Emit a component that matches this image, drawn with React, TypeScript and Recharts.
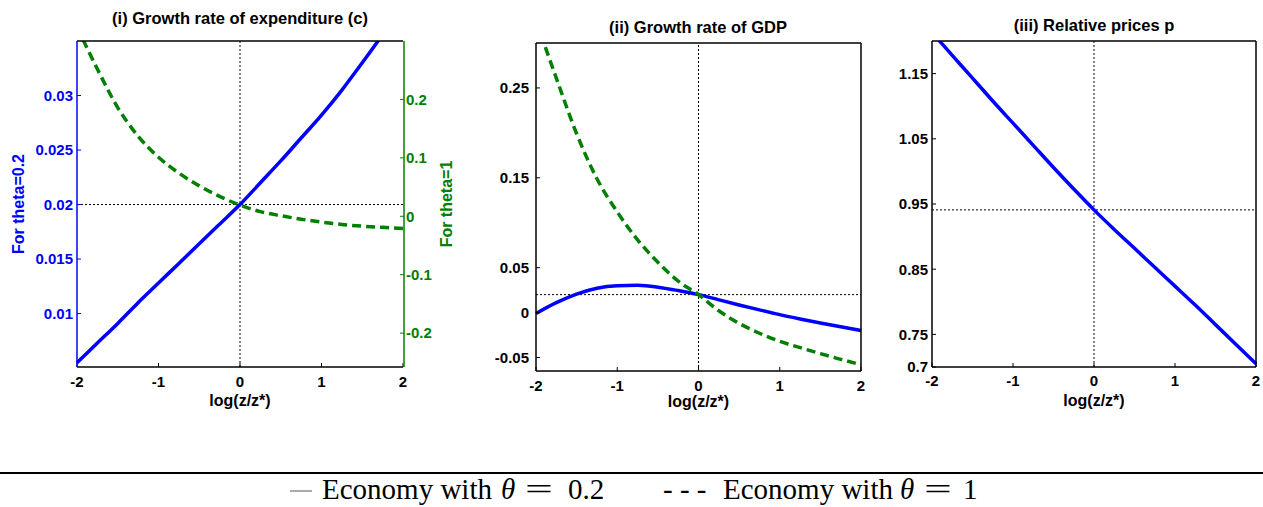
import React from 'react';
import { LineChart, Line, XAxis, YAxis, ReferenceLine } from 'recharts';

// log(z/z*) grid shared by all three panels
const logZ = [-2, -1.75, -1.5, -1.25, -1, -0.75, -0.5, -0.25, 0, 0.25, 0.5, 0.75, 1, 1.25, 1.5, 1.75, 2];
const xTicks = [-2, -1, 0, 1, 2];

// (i) growth rate of expenditure
const expTheta02 = [0.0055, 0.0073, 0.0091, 0.011, 0.0128, 0.0146, 0.0164, 0.0182, 0.02, 0.022, 0.024, 0.0261, 0.0282, 0.0305, 0.033, 0.0356, 0.0384];
const expTheta1 = [0.324, 0.252, 0.186, 0.137, 0.101, 0.074, 0.052, 0.034, 0.019, 0.008, 0.001, -0.005, -0.01, -0.014, -0.017, -0.019, -0.021];
const expLeftTicks = [0.01, 0.015, 0.02, 0.025, 0.03];
const expRightTicks = [-0.2, -0.1, 0, 0.1, 0.2];

// (ii) growth rate of GDP
const gdpTheta02 = [-0.001, 0.011, 0.0205, 0.027, 0.0298, 0.0303, 0.0283, 0.0245, 0.02, 0.0142, 0.0085, 0.003, -0.0023, -0.0071, -0.0116, -0.0158, -0.02];
const gdpTheta1 = [0.325, 0.261, 0.199, 0.149, 0.112, 0.081, 0.056, 0.035, 0.02, 0.002, -0.012, -0.023, -0.032, -0.039, -0.0456, -0.052, -0.058];
const gdpTicks = [-0.05, 0, 0.05, 0.15, 0.25];

// (iii) relative prices
const priceTheta02 = [1.213, 1.178, 1.143, 1.108, 1.074, 1.04, 1.006, 0.973, 0.941, 0.911, 0.882, 0.853, 0.824, 0.795, 0.765, 0.735, 0.705];
const priceTicks = [0.7, 0.75, 0.85, 0.95, 1.05, 1.15];

const rows = logZ.map((x, i) => ({
  x,
  expA: expTheta02[i],
  expB: expTheta1[i],
  gdpA: gdpTheta02[i],
  gdpB: gdpTheta1[i],
  priceA: priceTheta02[i],
}));

const BLUE = '#0000ff';
const GREEN = '#008000';
const SANS = '"Liberation Sans", Arial, Helvetica, sans-serif';

const tickFont = (fill: string) => ({ fill, fontSize: 15, fontWeight: 'bold', fontFamily: SANS });
const xLabel = (offset: number) => ({
  value: 'log(z/z*)',
  position: 'insideBottom' as const,
  offset,
  fill: '#000',
  fontSize: 16,
  fontWeight: 'bold',
  fontFamily: SANS,
});
const dotted = { stroke: '#000', strokeDasharray: '2 2', strokeWidth: 1 };
const box = { stroke: '#000', strokeWidth: 1.5 };

const Title = ({ text, center, top }: { text: string; center: number; top: number }) => (
  <div
    style={{
      position: 'absolute',
      left: center - 200,
      width: 400,
      top,
      textAlign: 'center',
      fontFamily: SANS,
      fontWeight: 'bold',
      fontSize: 16.5,
      lineHeight: '20px',
    }}
  >
    {text}
  </div>
);

const bottomAxis = (offset: number, tickMargin: number) => (
  <XAxis
    xAxisId="b"
    dataKey="x"
    type="number"
    domain={[-2, 2]}
    ticks={xTicks}
    interval={0}
    height={40}
    axisLine={box}
    tickLine={{ stroke: '#000' }}
    tickSize={-4}
    tickMargin={tickMargin}
    tick={tickFont('#000')}
    label={xLabel(offset)}
  />
);

// top edge of the box, ticks pointing inward
const topAxis = (
  <XAxis
    xAxisId="t"
    orientation="top"
    dataKey="x"
    type="number"
    domain={[-2, 2]}
    ticks={xTicks}
    interval={0}
    height={1}
    axisLine={box}
    tickLine={{ stroke: '#000' }}
    tickSize={-4}
    tick={false}
  />
);

const ExpenditurePanel = () => (
  <div style={{ position: 'absolute', left: 0, top: 0 }}>
    <LineChart width={480} height={420} data={rows} margin={{ top: 40, right: 16, bottom: 13, left: 5 }}>
      {bottomAxis(1, 13)}
      {topAxis}
      <YAxis
        yAxisId="L"
        orientation="left"
        width={72}
        type="number"
        domain={[0.0051, 0.035]}
        allowDataOverflow
        ticks={expLeftTicks}
        interval={0}
        axisLine={{ stroke: BLUE, strokeWidth: 1.5 }}
        tickLine={{ stroke: BLUE }}
        tickSize={-4}
        tickMargin={8}
        tick={tickFont(BLUE)}
        label={{
          value: 'For theta=0.2',
          angle: -90,
          position: 'insideLeft',
          offset: 13,
          fill: BLUE,
          fontSize: 16,
          fontWeight: 'bold',
          fontFamily: SANS,
          style: { textAnchor: 'middle' },
        }}
      />
      <YAxis
        yAxisId="Lm"
        orientation="right"
        width={1}
        type="number"
        domain={[0.0051, 0.035]}
        allowDataOverflow
        ticks={expLeftTicks}
        interval={0}
        axisLine={false}
        tickLine={{ stroke: BLUE }}
        tickSize={-4}
        tick={false}
      />
      <YAxis
        yAxisId="R"
        orientation="right"
        width={60}
        type="number"
        domain={[-0.258, 0.3]}
        allowDataOverflow
        ticks={expRightTicks}
        interval={0}
        axisLine={{ stroke: GREEN, strokeWidth: 1.5 }}
        tickLine={{ stroke: GREEN }}
        tickSize={-4}
        tickMargin={6}
        tick={tickFont(GREEN)}
        label={{
          value: 'For theta=1',
          angle: -90,
          position: 'insideRight',
          offset: 18,
          fill: GREEN,
          fontSize: 16,
          fontWeight: 'bold',
          fontFamily: SANS,
          style: { textAnchor: 'middle' },
        }}
      />
      <ReferenceLine xAxisId="b" yAxisId="L" x={0} {...dotted} />
      <ReferenceLine xAxisId="b" yAxisId="L" y={0.02} {...dotted} />
      <Line xAxisId="b" yAxisId="R" dataKey="expB" type="monotone" stroke={GREEN} strokeWidth={3.5} strokeDasharray="9 5" dot={false} isAnimationActive={false} />
      <Line xAxisId="b" yAxisId="L" dataKey="expA" type="monotone" stroke={BLUE} strokeWidth={3.5} dot={false} isAnimationActive={false} />
    </LineChart>
  </div>
);

const GdpPanel = () => (
  <div style={{ position: 'absolute', left: 480, top: 0 }}>
    <LineChart width={420} height={420} data={rows} margin={{ top: 42, right: 38, bottom: 9, left: 0 }}>
      {bottomAxis(4, 13)}
      {topAxis}
      <YAxis
        yAxisId="L"
        orientation="left"
        width={56}
        type="number"
        domain={[-0.065, 0.3]}
        allowDataOverflow
        ticks={gdpTicks}
        interval={0}
        axisLine={box}
        tickLine={{ stroke: '#000' }}
        tickSize={-4}
        tickMargin={11}
        tick={tickFont('#000')}
      />
      <YAxis
        yAxisId="Rm"
        orientation="right"
        width={1}
        type="number"
        domain={[-0.065, 0.3]}
        allowDataOverflow
        ticks={gdpTicks}
        interval={0}
        axisLine={box}
        tickLine={{ stroke: '#000' }}
        tickSize={-4}
        tick={false}
      />
      <ReferenceLine xAxisId="b" yAxisId="L" x={0} {...dotted} />
      <ReferenceLine xAxisId="b" yAxisId="L" y={0.02} {...dotted} />
      <Line xAxisId="b" yAxisId="L" dataKey="gdpA" type="monotone" stroke={BLUE} strokeWidth={3.5} dot={false} isAnimationActive={false} />
      <Line xAxisId="b" yAxisId="L" dataKey="gdpB" type="monotone" stroke={GREEN} strokeWidth={3.5} strokeDasharray="9 5" dot={false} isAnimationActive={false} />
    </LineChart>
  </div>
);

const PricePanel = () => (
  <div style={{ position: 'absolute', left: 880, top: 0 }}>
    <LineChart width={383} height={420} data={rows} margin={{ top: 40, right: 6, bottom: 13, left: 0 }}>
      {bottomAxis(1, 12)}
      {topAxis}
      <YAxis
        yAxisId="L"
        orientation="left"
        width={52}
        type="number"
        domain={[0.7, 1.2]}
        allowDataOverflow
        ticks={priceTicks}
        interval={0}
        axisLine={box}
        tickLine={{ stroke: '#000' }}
        tickSize={-4}
        tickMargin={8}
        tick={tickFont('#000')}
      />
      <YAxis
        yAxisId="Rm"
        orientation="right"
        width={1}
        type="number"
        domain={[0.7, 1.2]}
        allowDataOverflow
        ticks={priceTicks}
        interval={0}
        axisLine={box}
        tickLine={{ stroke: '#000' }}
        tickSize={-4}
        tick={false}
      />
      <ReferenceLine xAxisId="b" yAxisId="L" x={0} {...dotted} />
      <ReferenceLine xAxisId="b" yAxisId="L" y={0.941} {...dotted} />
      <Line xAxisId="b" yAxisId="L" dataKey="priceA" type="monotone" stroke={BLUE} strokeWidth={3.5} dot={false} isAnimationActive={false} />
    </LineChart>
  </div>
);

const serif = '"Liberation Serif", "Times New Roman", serif';
const legendText: React.CSSProperties = {
  position: 'absolute',
  top: 475,
  fontFamily: serif,
  fontSize: 29,
  lineHeight: '29px',
  whiteSpace: 'nowrap',
  color: '#000',
};
const wideEq: React.CSSProperties = { transform: 'scaleX(1.7)', transformOrigin: 'left center' };

const Caption = () => (
  <>
    <div style={{ position: 'absolute', left: 0, top: 472, width: 1263, height: 1.5, background: '#000' }} />
    <div style={{ position: 'absolute', left: 290, top: 490, width: 22, height: 1.5, background: '#aaa' }} />
    <span style={{ ...legendText, left: 322 }}>Economy with</span>
    <span style={{ ...legendText, left: 501, fontStyle: 'italic' }}>θ</span>
    <span style={{ ...legendText, ...wideEq, left: 525 }}>=</span>
    <span style={{ ...legendText, left: 568 }}>0.2</span>
    <span style={{ ...legendText, left: 663 }}>- - -</span>
    <span style={{ ...legendText, left: 723 }}>Economy with</span>
    <span style={{ ...legendText, left: 900, fontStyle: 'italic' }}>θ</span>
    <span style={{ ...legendText, ...wideEq, left: 924 }}>=</span>
    <span style={{ ...legendText, left: 963 }}>1</span>
  </>
);

export default function App() {
  return (
    <div style={{ position: 'absolute', left: 0, top: 0, width: 1263, height: 507, background: '#fff', overflow: 'hidden' }}>
      <Title text="(i) Growth rate of expenditure (c)" center={240} top={8} />
      <Title text="(ii) Growth rate of GDP" center={698} top={17} />
      <Title text="(iii) Relative prices p" center={1094} top={15} />
      <ExpenditurePanel />
      <GdpPanel />
      <PricePanel />
      <Caption />
    </div>
  );
}
